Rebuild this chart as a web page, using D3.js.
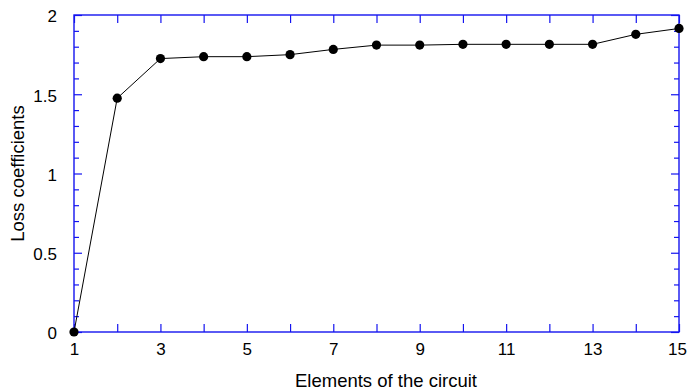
<!DOCTYPE html>
<html><head><meta charset="utf-8">
<script src="https://cdn.jsdelivr.net/npm/d3@7"></script>
<style>body{margin:0;background:#fff}svg{display:block}text{font-family:"Liberation Sans",Arial,sans-serif;fill:#000}</style>
</head><body><svg id="c" width="687" height="390"></svg>
<script>
const elements = [1,2,3,4,5,6,7,8,9,10,11,12,13,14,15];
const lossCoefficients = [0, 1.475, 1.725, 1.737, 1.737, 1.75, 1.783, 1.81, 1.81, 1.815, 1.815, 1.815, 1.815, 1.878, 1.915];
const xTickLabels = [1,3,5,7,9,11,13,15];
const yMajorTicks = [0,0.5,1,1.5,2];
const yMinorTicks = [0.1,0.2,0.3,0.4,0.6,0.7,0.8,0.9,1.1,1.2,1.3,1.4,1.6,1.7,1.8,1.9];
const xTitle = "Elements of the circuit";
const yTitle = "Loss coefficients";

const L=74, R=679, T=15, B=332;
const blue = "#1414f0";
const svg = d3.select("#c");
const x = d3.scaleLinear().domain([1,15]).range([L,R]);
const y = d3.scaleLinear().domain([0,2]).range([B,T]);

function style(g){ g.select(".domain").remove(); g.selectAll(".tick line").attr("stroke",blue).attr("stroke-width",1.2); g.selectAll("text").attr("font-size",17).attr("fill","#000").attr("font-family","Liberation Sans, Arial, sans-serif"); }

// bottom
const bx = svg.append("g").attr("transform",`translate(0,${B})`)
  .call(d3.axisBottom(x).tickValues(elements).tickSize(-8).tickPadding(11)
     .tickFormat(d=> xTickLabels.includes(d) ? d : "")).call(style);
bx.selectAll("text").filter(d=>d===15).attr("x",-2);
// top
svg.append("g").attr("transform",`translate(0,${T})`)
  .call(d3.axisTop(x).tickValues(elements).tickSize(-8).tickFormat("")).call(style);
// left major
svg.append("g").attr("transform",`translate(${L},0)`)
  .call(d3.axisLeft(y).tickValues(yMajorTicks).tickSize(-8).tickPadding(17).tickFormat(d3.format("~g"))).call(style)
  .selectAll("text").attr("dy","0.4em");
// left minor
svg.append("g").attr("transform",`translate(${L},0)`)
  .call(d3.axisLeft(y).tickValues(yMinorTicks).tickSize(-5).tickFormat("")).call(style);
// right major/minor
svg.append("g").attr("transform",`translate(${R},0)`)
  .call(d3.axisRight(y).tickValues(yMajorTicks).tickSize(-8).tickFormat("")).call(style);
svg.append("g").attr("transform",`translate(${R},0)`)
  .call(d3.axisRight(y).tickValues(yMinorTicks).tickSize(-5).tickFormat("")).call(style);

// frame
svg.append("rect").attr("x",L).attr("y",T).attr("width",R-L).attr("height",B-T)
  .attr("fill","none").attr("stroke",blue).attr("stroke-width",1.4);

// line
svg.append("path").datum(elements.map((e,i)=>[e,lossCoefficients[i]]))
  .attr("fill","none").attr("stroke","#000").attr("stroke-width",1)
  .attr("d", d3.line().x(d=>x(d[0])).y(d=>y(d[1])));
svg.append("g").selectAll("circle").data(elements.map((e,i)=>[e,lossCoefficients[i]]))
  .join("circle").attr("cx",d=>x(d[0])).attr("cy",d=>y(d[1])).attr("r",4.6).attr("fill","#000");

// titles
svg.append("text").attr("x",386).attr("y",387).attr("text-anchor","middle").attr("font-size",18.5).text(xTitle);
svg.append("text").attr("transform",`translate(24,${(T+B)/2}) rotate(-90)`).attr("text-anchor","middle").attr("font-size",18.5).text(yTitle);
</script></body></html>
